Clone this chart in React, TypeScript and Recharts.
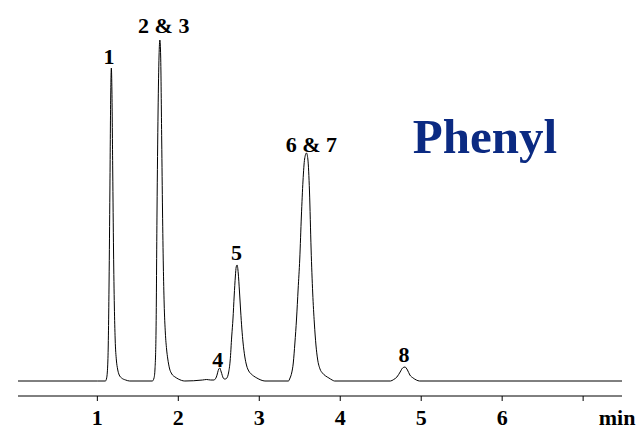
import React from "react";
import {
  ComposedChart,
  Line,
  Scatter,
  XAxis,
  YAxis,
} from "recharts";

// retention time (min) and detector signal
const times = [
  0.02, 1.0, 1.1, 1.115, 1.13, 1.145, 1.155, 1.165, 1.173, 1.18, 1.19, 1.2, 1.21, 1.22, 1.235, 1.25, 1.27, 1.3, 1.35, 1.4,
  1.68, 1.7, 1.712, 1.725, 1.737, 1.75, 1.762, 1.772, 1.782, 1.795, 1.805, 1.815, 1.825, 1.84, 1.855, 1.87, 1.89, 1.92, 1.96, 2.0, 2.08,
  2.3, 2.35, 2.4, 2.44, 2.47, 2.5, 2.512, 2.53, 2.555, 2.57,
  2.58, 2.6, 2.62, 2.64, 2.66, 2.675, 2.69, 2.705, 2.715, 2.726, 2.74, 2.755, 2.77, 2.785, 2.8, 2.82, 2.845, 2.87, 2.9, 2.93, 2.97, 3.02, 3.07,
  3.36, 3.38, 3.4, 3.42, 3.44, 3.46, 3.48, 3.5, 3.52, 3.54, 3.56, 3.583, 3.6, 3.62, 3.64, 3.66, 3.68, 3.7, 3.72, 3.75, 3.78, 3.82, 3.86, 3.9, 3.93,
  4.62, 4.66, 4.7, 4.74, 4.77, 4.8, 4.83, 4.86, 4.9, 4.94, 4.98, 7.48,
];
const signal = [
  0, 0, 0, 3, 20, 100, 190, 285, 313, 290, 210, 130, 75, 42, 21, 12, 6, 3, 1, 0,
  0, 3, 12, 50, 170, 270, 325, 341, 325, 240, 170, 115, 78, 48, 32, 22, 13, 7, 4, 2, 0,
  1, 1.5, 1, 1, 4, 12, 13, 9, 3, 2,
  2, 3, 8, 20, 45, 62, 85, 105, 114, 116, 108, 90, 70, 52, 38, 25, 15, 10, 7, 5, 3, 1, 0,
  0, 3, 8, 18, 38, 62, 92, 122, 165, 200, 222, 228, 222, 190, 132, 88, 58, 36, 22, 12, 8, 5, 3, 1, 0,
  0, 1.5, 4, 9, 13, 14, 11, 6, 3, 1, 0, 0,
];

// peak annotations (label anchor = text baseline)
const peakNames = ["1", "2 & 3", "4", "5", "6 & 7", "8"];
const peakTimes = [1.143, 1.82, 2.487, 2.718, 3.643, 4.786];
const peakLabelLevels = [317, 348, 14, 121, 229, 19];

const tickValues = [1, 2, 3, 4, 5, 6, 7];
const tickLabels = ["1", "2", "3", "4", "5", "6", "min"];

const trace = times.map((t, i) => ({ t, v: signal[i] }));
const peaks = peakNames.map((name, i) => ({ t: peakTimes[i], v: peakLabelLevels[i], name }));

const FONT = "'Liberation Serif', 'Times New Roman', serif";

const XTick = (props: any) => {
  const { x, y, payload } = props;
  const idx = tickValues.indexOf(payload.value);
  const text = tickLabels[idx];
  const isUnit = text === "min";
  return (
    <text
      x={x + (isUnit ? 34 : 0)}
      y={y}
      dy={22}
      textAnchor="middle"
      fontFamily={FONT}
      fontWeight="bold"
      fontSize={22}
      fill="#000"
    >
      {text}
    </text>
  );
};

const PeakLabel = (props: any) => {
  const { cx, cy, payload } = props;
  return (
    <text
      x={cx}
      y={cy}
      textAnchor="middle"
      fontFamily={FONT}
      fontWeight="bold"
      fontSize={22}
      fill="#000"
    >
      {payload.name}
    </text>
  );
};

export default function App() {
  return (
    <div style={{ position: "fixed", left: 0, top: 0, width: 636, height: 432, background: "#fff" }}>
      <ComposedChart
        width={636}
        height={432}
        margin={{ top: 6, right: 14, bottom: 0, left: 18 }}
      >
        <XAxis
          dataKey="t"
          type="number"
          domain={[0.02, 7.48]}
          ticks={tickValues}
          interval={0}
          allowDataOverflow
          height={36}
          stroke="#000"
          tickSize={5}
          tickMargin={2}
          tick={<XTick />}
        />
        <YAxis
          type="number"
          domain={[-15, 375]}
          allowDataOverflow
          width={0}
          tick={false}
          tickLine={false}
          stroke="#000"
        />
        <Line
          data={trace}
          dataKey="v"
          type="monotone"
          stroke="#000"
          strokeWidth={1}
          dot={false}
          activeDot={false}
          isAnimationActive={false}
        />
        <Scatter
          data={peaks}
          dataKey="v"
          shape={<PeakLabel />}
          isAnimationActive={false}
        />
        <text
          x={485}
          y={153}
          textAnchor="middle"
          fontFamily={FONT}
          fontWeight="bold"
          fontSize={49}
          fill="#0b2a82"
        >
          Phenyl
        </text>
      </ComposedChart>
    </div>
  );
}
